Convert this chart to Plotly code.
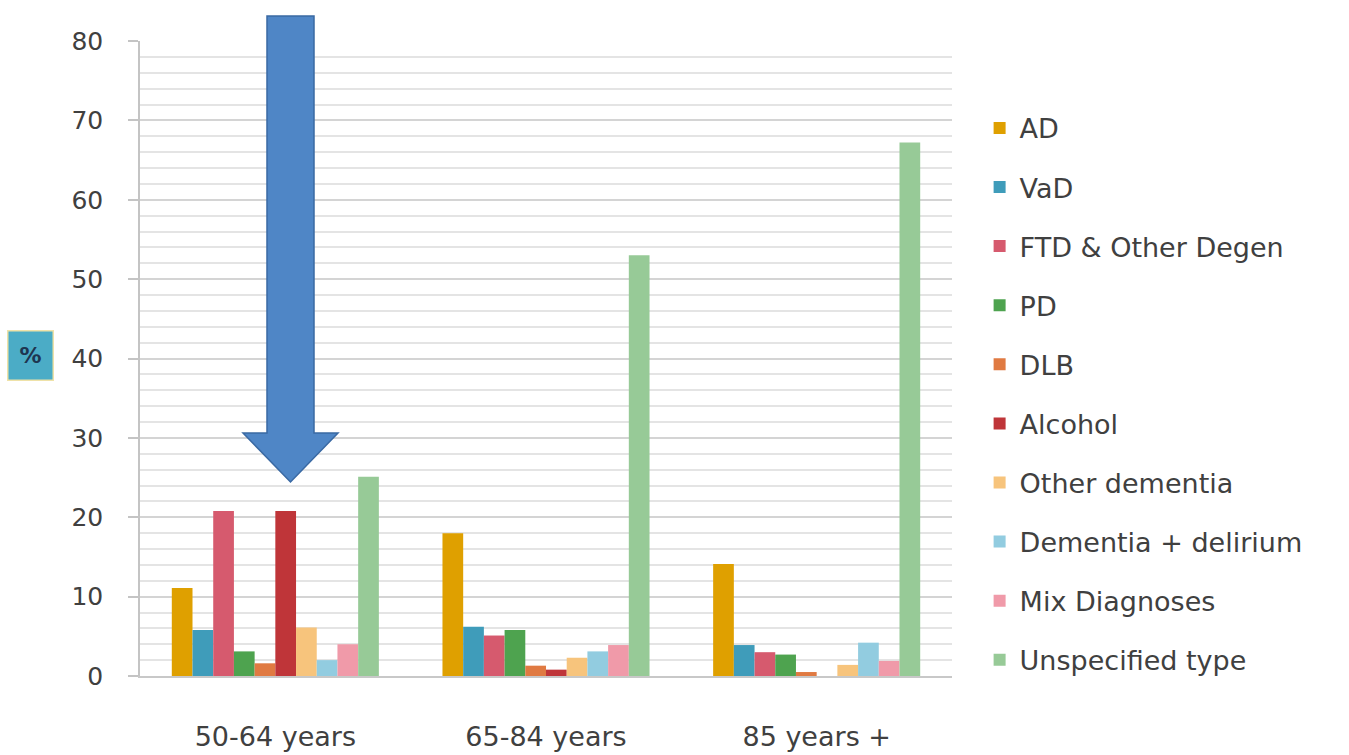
import plotly.graph_objects as go

categories = ["50-64 years", "65-84 years", "85 years +"]
series_names = ["AD", "VaD", "FTD & Other Degen", "PD", "DLB", "Alcohol",
                "Other dementia", "Dementia + delirium", "Mix Diagnoses", "Unspecified type"]
ad = [11.1, 18.0, 14.1]
vad = [5.8, 6.2, 3.9]
ftd = [20.8, 5.1, 3.0]
pd_ = [3.1, 5.8, 2.7]
dlb = [1.6, 1.3, 0.5]
alcohol = [20.8, 0.8, 0.0]
other = [6.1, 2.3, 1.4]
delirium = [2.0, 3.1, 4.2]
mix = [4.0, 3.9, 1.9]
unspecified = [25.1, 53.0, 67.2]
series_values = [ad, vad, ftd, pd_, dlb, alcohol, other, delirium, mix, unspecified]
colors = ["#dfa000", "#3f9cba", "#d65a6e", "#4ea34f", "#e07a42", "#bf3539",
          "#f7c47c", "#92cce0", "#f09aa9", "#97ca97"]
y_ticks = [0, 10, 20, 30, 40, 50, 60, 70, 80]

FONT = "DejaVu Sans, Open Sans, sans-serif"

fig = go.Figure()
for i, (name, vals, col) in enumerate(zip(series_names, series_values, colors)):
    fig.add_trace(go.Bar(x=categories, y=vals, name=name, marker=dict(color=col, line=dict(width=0)),
                         legendgroup=f"g{i}"))

W, H = 1349, 755
L, R, T, B = 140, 952, 41, 676
pw, ph = R - L, B - T

def px(x):
    return (x - L) / pw

def py(y):
    return 1 - (y - T) / ph

# decorative arrow (paper coords)
pts = [(267, 16), (314, 16), (314, 433), (338, 433), (290.5, 482), (243, 433), (267, 433)]
path = "M " + " L ".join(f"{px(a):.5f},{py(b):.5f}" for a, b in pts) + " Z"

fig.update_layout(
    width=W, height=H,
    margin=dict(l=L, r=W - R, t=T, b=H - B, autoexpand=False),
    paper_bgcolor="white", plot_bgcolor="white",
    barmode="group", bargap=0.235, bargroupgap=0,
    font=dict(family=FONT, color="#404040"),
    showlegend=True,
    legend=dict(x=1.034, xanchor="left", y=0.901, yanchor="top",
                font=dict(size=27, color="#404040", family=FONT),
                tracegroupgap=21, bgcolor="rgba(0,0,0,0)", borderwidth=0),
    xaxis=dict(showgrid=False, showline=True, linecolor="#c8c8c8", linewidth=2,
               ticks="", tickfont=dict(size=27, color="#404040"), ticklabelstandoff=36,
               automargin=False, fixedrange=True),
    yaxis=dict(range=[0, 80], tickvals=y_ticks, showgrid=True, gridcolor="#d4d4d4", gridwidth=2,
               showline=True, linecolor="#c4c4c4", linewidth=1.5,
               ticks="outside", ticklen=10, tickcolor="#c4c4c4", tickwidth=1.5,
               tickfont=dict(size=25, color="#404040"), ticklabelstandoff=20,
               minor=dict(dtick=2, showgrid=True, gridcolor="#e4e4e4", gridwidth=1.5, ticks=""),
               zeroline=False, automargin=False, fixedrange=True),
    shapes=[dict(type="path", xref="paper", yref="paper", path=path,
                 fillcolor="#4f86c6", line=dict(color="#3a69a3", width=1.5), layer="above")],
    annotations=[dict(text="<b>%</b>", xref="paper", yref="paper", x=px(30), y=py(355),
                      xanchor="center", yanchor="middle",
                      showarrow=False, bgcolor="#4bacc6", bordercolor="#efe2a8", borderwidth=1.5,
                      width=42, height=46, font=dict(size=22, color="#1e3550", family=FONT))],
)

fig.write_html("out.html")
